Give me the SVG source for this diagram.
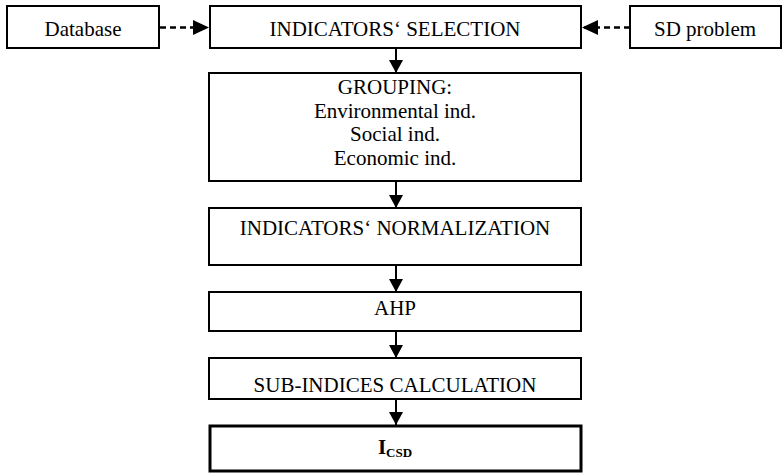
<svg xmlns="http://www.w3.org/2000/svg" width="782" height="474" viewBox="0 0 782 474">
<style>
.box{fill:#fff;stroke:#000;stroke-width:2}
.bold{fill:#fff;stroke:#000;stroke-width:3}
.t{font-family:"Liberation Serif","Times New Roman",serif;font-size:21px;fill:#000;text-anchor:middle}
.c{stroke:#000;stroke-width:2;fill:none}
.d{stroke:#000;stroke-width:2.5;fill:none;stroke-dasharray:6,4}
</style>
<defs>
<marker id="ah" markerUnits="userSpaceOnUse" markerWidth="16" markerHeight="15" refX="16" refY="7.5" orient="auto">
<path d="M0,0 L16,7.5 L0,15 z" fill="#000"/>
</marker>
<marker id="ad" markerUnits="userSpaceOnUse" markerWidth="13" markerHeight="14" refX="13" refY="7" orient="auto">
<path d="M0,0 L13,7 L0,14 z" fill="#000"/>
</marker>
</defs>
<g id="connectors">
<line class="d" x1="160" y1="27.5" x2="209" y2="27.5" marker-end="url(#ah)"/>
<line class="d" x1="630" y1="27.5" x2="582" y2="27.5" marker-end="url(#ah)"/>
<line class="c" x1="396" y1="48" x2="396" y2="73" marker-end="url(#ad)"/>
<line class="c" x1="396" y1="181" x2="396" y2="208" marker-end="url(#ad)"/>
<line class="c" x1="396" y1="265" x2="396" y2="292" marker-end="url(#ad)"/>
<line class="c" x1="396" y1="331" x2="396" y2="358" marker-end="url(#ad)"/>
<line class="c" x1="396" y1="399" x2="396" y2="425" marker-end="url(#ad)"/>
</g>
<g id="database">
<rect class="box" x="7" y="6" width="152" height="42"/>
<text class="t" x="83" y="36">Database</text>
</g>
<g id="selection">
<rect class="box" x="210" y="6" width="371" height="42"/>
<text class="t" x="395" y="36">INDICATORS‘ SELECTION</text>
</g>
<g id="sdproblem">
<rect class="box" x="630" y="6" width="151" height="42"/>
<text class="t" x="705" y="36">SD problem</text>
</g>
<g id="grouping">
<rect class="box" x="209" y="73" width="372" height="108"/>
<text class="t" x="395" y="94">GROUPING:</text>
<text class="t" x="395" y="118">Environmental ind.</text>
<text class="t" x="395" y="141">Social ind.</text>
<text class="t" x="395" y="165">Economic ind.</text>
</g>
<g id="normalization">
<rect class="box" x="209" y="208" width="372" height="57"/>
<text class="t" x="395" y="235">INDICATORS‘ NORMALIZATION</text>
</g>
<g id="ahp">
<rect class="box" x="209" y="292" width="372" height="39"/>
<text class="t" x="395" y="315">AHP</text>
</g>
<g id="subindices">
<rect class="box" x="209" y="358" width="372" height="41"/>
<text class="t" x="395" y="392">SUB-INDICES CALCULATION</text>
</g>
<g id="icsd">
<rect class="bold" x="210" y="426" width="371" height="45"/>
<text class="t" x="395" y="454"><tspan font-weight="bold">I</tspan><tspan font-weight="bold" font-size="13" dy="3">CSD</tspan></text>
</g>
</svg>
